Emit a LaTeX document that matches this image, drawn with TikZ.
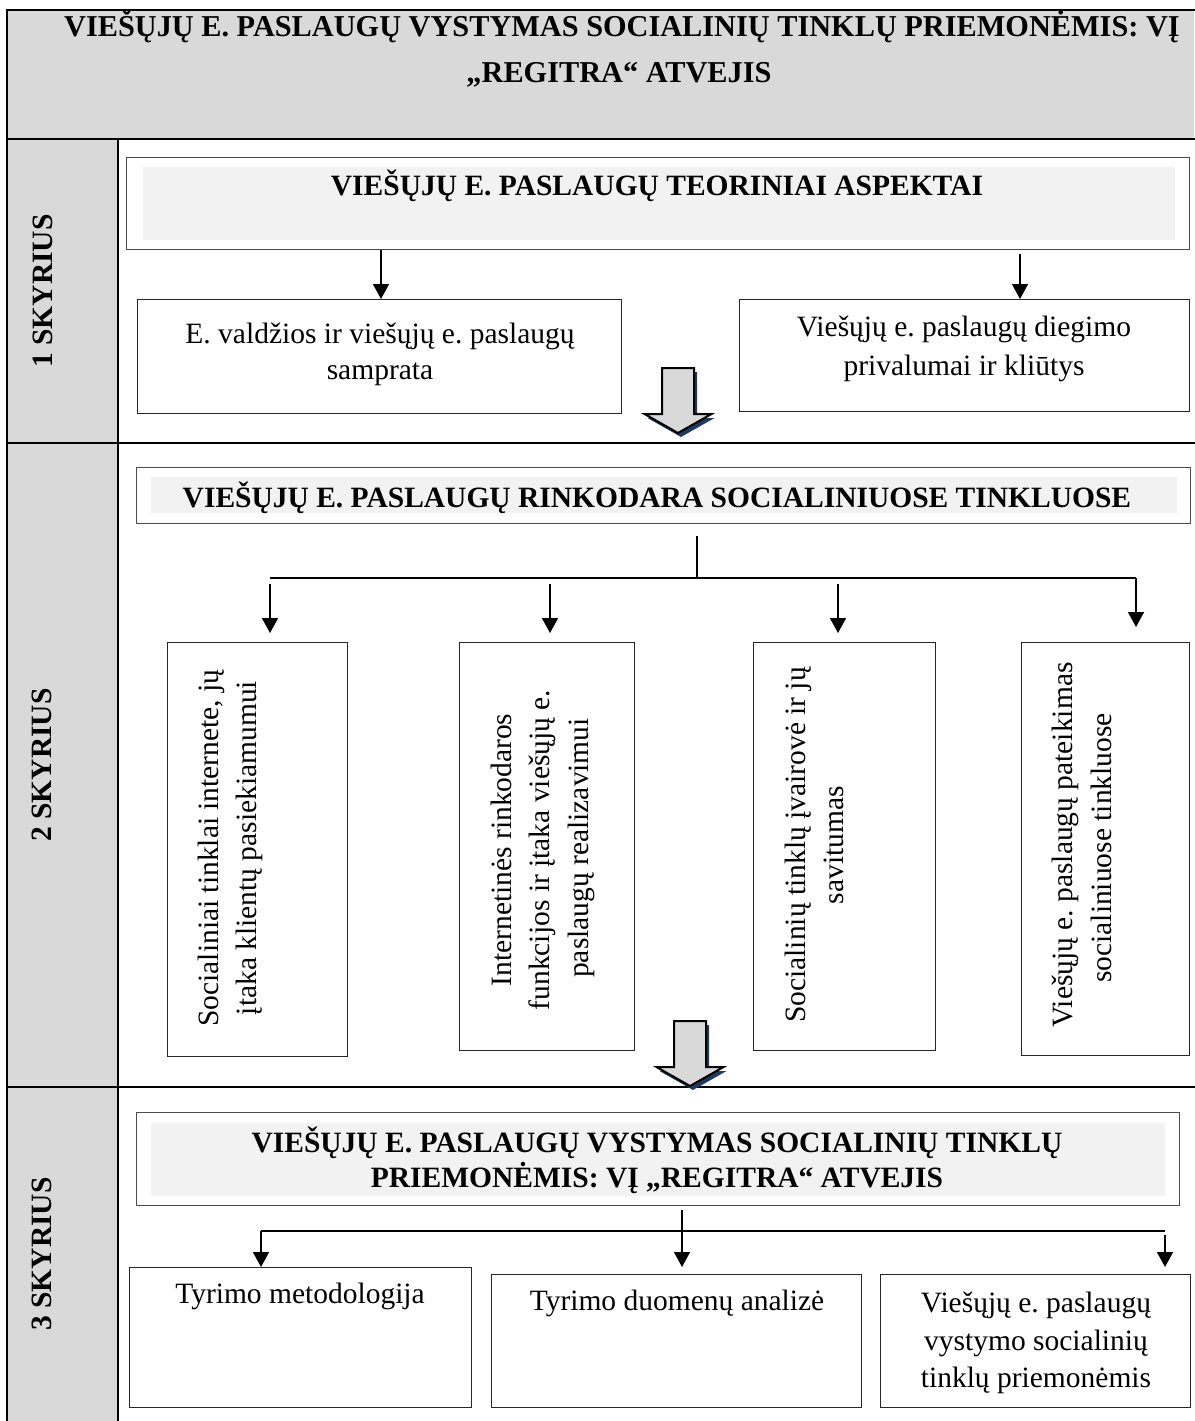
\documentclass[tikz,border=0pt]{standalone}
\usepackage{fontspec}
\setmainfont{Liberation Serif}
\usetikzlibrary{arrows.meta}
\frenchspacing
\definecolor{bandgray}{HTML}{D9D9D9}
\definecolor{innergray}{HTML}{F2F2F2}
\definecolor{shadownavy}{HTML}{1F3A60}
\tikzset{
  gridline/.style={line width=2.5pt, black, line cap=rect},
  box/.style={draw=black!85, line width=1.3pt, fill=white, inner sep=0pt, anchor=north west},
  hbox/.style={draw=black!70, line width=1.3pt, fill=white, inner sep=0pt, anchor=north west},
  innerfill/.style={fill=innergray},
  txt/.style={font=\fontsize{29.5}{36}\selectfont, inner sep=0pt, anchor=base},
  btxt/.style={font=\fontsize{29.5}{36}\selectfont\bfseries, inner sep=0pt, anchor=base},
  titletxt/.style={font=\fontsize{30.3}{36}\selectfont\bfseries, inner sep=0pt, anchor=base},
  vtxt/.style={txt, rotate=90},
  sklabel/.style={font=\fontsize{29.5}{36}\selectfont\bfseries, inner sep=0pt, rotate=90},
  arr/.style={line width=1.5pt, -{Triangle[width=16pt,length=15pt]}},
  conn/.style={line width=1.5pt},
  blockarrow/.style={fill=bandgray, draw=black, line width=2pt, line join=miter},
  downarrow/.pic={
    \fill[shadownavy, shift={(3,4)}] (-16,0) -- (16,0) -- (16,46) -- (33.5,46) -- (0,65) -- (-33.5,46) -- (-16,46) -- cycle;
    \draw[blockarrow] (-16,0) -- (16,0) -- (16,46) -- (33.5,46) -- (0,65) -- (-33.5,46) -- (-16,46) -- cycle;
  }
}
\begin{document}
\begin{tikzpicture}[x=1pt, y=-1pt]
\useasboundingbox (0,0) rectangle (1194,1421);
% backgrounds
\fill[bandgray] (7,10) rectangle (1194,139);
\fill[bandgray] (7,139) rectangle (118,1421);
% grid
\draw[gridline] (7,1421) -- (7,10) -- (1194,10);
\draw[gridline] (7,139) -- (1194,139);
\draw[gridline] (7,443) -- (1194,443);
\draw[gridline] (7,1087) -- (1194,1087);
\draw[gridline] (118,139) -- (118,1421);

% title
\node[titletxt] (title1) at (622,37) {VIEŠŲJŲ E. PASLAUGŲ VYSTYMAS SOCIALINIŲ TINKLŲ PRIEMONĖMIS: VĮ};
\node[titletxt] (title2) at (619,82) {„REGITRA“ ATVEJIS};

% chapter labels
\node[sklabel] (sk1) at (43,291) {1 SKYRIUS};
\node[sklabel] (sk2) at (42,765) {2 SKYRIUS};
\node[sklabel] (sk3) at (42,1254) {3 SKYRIUS};

% ---------- row 1 ----------
\node[hbox, minimum width=1063pt, minimum height=92pt] (h1) at (126,157) {};
\fill[innerfill] (143,167) rectangle (1175,240);
\node[btxt] (h1t) at (657,195) {VIEŠŲJŲ E. PASLAUGŲ TEORINIAI ASPEKTAI};

\node[box, minimum width=484pt, minimum height=114pt] (b1) at (137,299) {};
\node[txt] (b1t1) at (380,343) {E. valdžios ir viešųjų e. paslaugų};
\node[txt] (b1t2) at (380,379) {samprata};

\node[box, minimum width=450pt, minimum height=112pt] (b2) at (739,299) {};
\node[txt] (b2t1) at (964,336) {Viešųjų e. paslaugų diegimo};
\node[txt] (b2t2) at (964,375) {privalumai ir kliūtys};

\coordinate (a1) at (381,0);
\coordinate (a2) at (1020,0);
\draw[arr] (h1.south -| a1) -- (b1.north -| a1);
\draw[arr, shorten <=4pt] (h1.south -| a2) -- (b2.north -| a2);

\pic (ba1) at (678,368) {downarrow};

% ---------- row 2 ----------
\node[hbox, minimum width=1054pt, minimum height=56pt] (h2) at (136,467) {};
\fill[innerfill] (151,477) rectangle (1177,513);
\node[btxt] (h2t) at (657,507) {VIEŠŲJŲ E. PASLAUGŲ RINKODARA SOCIALINIUOSE TINKLUOSE};

\node[box, minimum width=180pt, minimum height=414pt] (v1) at (167,642) {};
\node[box, minimum width=175pt, minimum height=408pt] (v2) at (459,642) {};
\node[box, minimum width=182pt, minimum height=408pt] (v3) at (753,642) {};
\node[box, minimum width=168pt, minimum height=413pt] (v4) at (1021,642) {};

\node[vtxt] (v1t1) at (218,848) {Socialiniai tinklai internete, jų};
\node[vtxt] (v1t2) at (256,848) {įtaka klientų pasiekiamumui};
\node[vtxt] (v2t1) at (511,850) {Internetinės rinkodaros};
\node[vtxt] (v2t2) at (549,850) {funkcijos ir įtaka viešųjų e.};
\node[vtxt] (v2t3) at (588,848) {paslaugų realizavimui};
\node[vtxt] (v3t1) at (805,845) {Socialinių tinklų įvairovė ir jų};
\node[vtxt] (v3t2) at (843,845) {savitumas};
\node[vtxt] (v4t1) at (1072,845) {Viešųjų e. paslaugų pateikimas};
\node[vtxt] (v4t2) at (1111,848) {socialiniuose tinkluose};

\coordinate (s2) at (697,578);
\coordinate (r2a) at (270,578);
\coordinate (r2b) at (550,578);
\coordinate (r2c) at (838,578);
\coordinate (r2d) at (1136,578);
\draw[conn, shorten <=12pt] (h2.south -| s2) -- (s2);
\draw[conn] (r2a) -- (r2d);
\draw[arr, shorten <=6pt, shorten >=9pt] (r2a) -- (v1.north -| r2a);
\draw[arr, shorten <=6pt, shorten >=9pt] (r2b) -- (v2.north -| r2b);
\draw[arr, shorten <=6pt, shorten >=9pt] (r2c) -- (v3.north -| r2c);
\draw[arr, shorten >=15pt] (r2d) -- (v4.north -| r2d);

\pic (ba2) at (690,1021) {downarrow};

% ---------- row 3 ----------
\node[hbox, minimum width=1043pt, minimum height=93pt] (h3) at (136,1112) {};
\fill[innerfill] (151,1123) rectangle (1165,1196);
\node[btxt] (h3t1) at (657,1152) {VIEŠŲJŲ E. PASLAUGŲ VYSTYMAS SOCIALINIŲ TINKLŲ};
\node[btxt] (h3t2) at (657,1187) {PRIEMONĖMIS: VĮ „REGITRA“ ATVEJIS};

\node[box, minimum width=342pt, minimum height=140pt] (c1) at (129,1267) {};
\node[box, minimum width=370pt, minimum height=133pt] (c2) at (491,1274) {};
\node[box, minimum width=310pt, minimum height=133pt] (c3) at (880,1274) {};

\node[txt] (c1t) at (300,1303) {Tyrimo metodologija};
\node[txt] (c2t) at (677,1310) {Tyrimo duomenų analizė};
\node[txt] (c3t1) at (1036,1312) {Viešųjų e. paslaugų};
\node[txt] (c3t2) at (1036,1350) {vystymo socialinių};
\node[txt] (c3t3) at (1036,1387) {tinklų priemonėmis};

\coordinate (m3) at (682,1231);
\coordinate (r3a) at (261,1231);
\coordinate (r3c) at (1165,1231);
\draw[conn] (r3a) -- (r3c);
\draw[arr, shorten <=4pt, shorten >=7pt] (h3.south -| m3) -- (c2.north -| m3);
\draw[arr] (r3a) -- (c1.north -| r3a);
\draw[arr, shorten <=4pt, shorten >=7pt] (r3c) -- (c3.north -| r3c);
\end{tikzpicture}
\end{document}
